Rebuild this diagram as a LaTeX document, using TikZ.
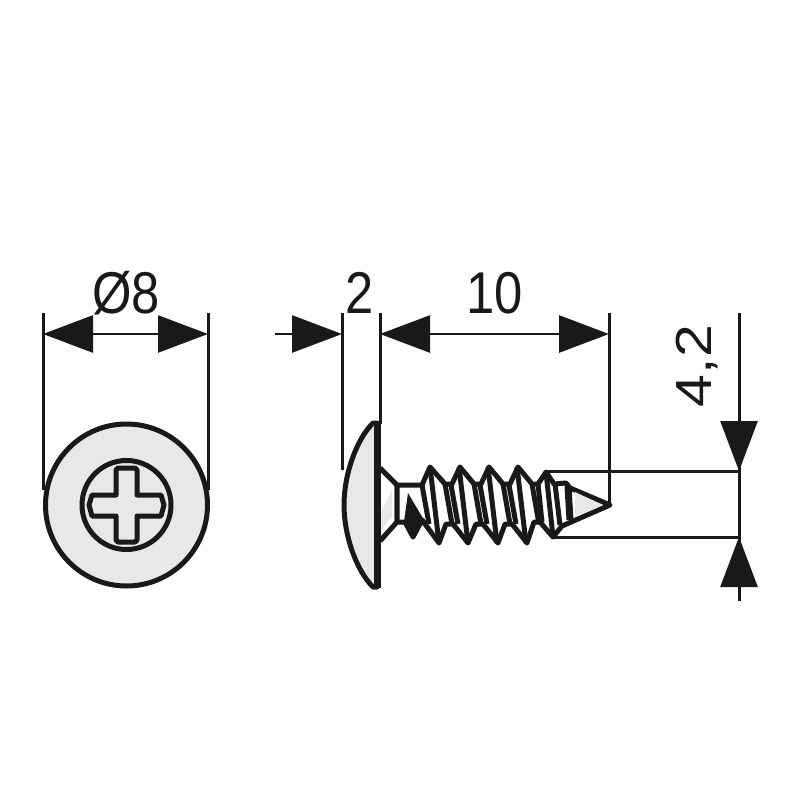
\documentclass[tikz,border=0pt]{standalone}
\usepackage{fontspec}
\setmainfont{Liberation Sans}
\usetikzlibrary{arrows.meta}
\definecolor{headgray}{HTML}{E8E8E8}
\begin{document}
\begin{tikzpicture}[x=1pt,y=-1pt]
	\tikzstyle{part}=[line width=5pt, draw=black!90, line join=round]
	\tikzstyle{thin}=[line width=3pt, draw=black!90]
	\tikzstyle{dim}=[line width=2.6pt, draw=black!90]
	\tikzstyle{tip}=[dim, -{Triangle[length=50pt,width=37pt,black!90]}]
	\tikzstyle{txt}=[inner sep=0pt, xscale=.86, font=\fontsize{59}{59}\selectfont, text=black!90]
	\useasboundingbox (0,0) rectangle (800,800);
	% head seen from the front
	\node[circle, part, fill=headgray, minimum size=162pt, inner sep=0pt] (head) at (126.5,505) {};
	\node[circle, part, minimum size=89pt, inner sep=0pt] (recess) at (126.5,505) {};
	\draw[part] (116,495) -- (116,470) -- (118,468) -- (135,468) -- (137,470) -- (137,495) -- (161,495) -- (164,505)
		-- (161,516) -- (137,516) -- (137,540) -- (135,542) -- (118,542) -- (116,540) -- (116,516) -- (92,516)
		-- (89,505) -- (92,495) -- cycle;
	% dimension coordinates
	\coordinate (a1) at (43,313);
	\coordinate (a2) at (43,490);
	\coordinate (b1) at (208,313);
	\coordinate (b2) at (208,490);
	\coordinate (c1) at (342,313);
	\coordinate (c2) at (342,470);
	\coordinate (d1) at (380,313);
	\coordinate (d2) at (380,424);
	\coordinate (e1) at (609,313);
	\coordinate (e2) at (609,505);
	\coordinate (f1) at (739,313);
	\coordinate (f2) at (739,601);
	\coordinate (g1) at (546,471);
	\coordinate (g2) at (739,471);
	\coordinate (h1) at (553,537);
	\coordinate (h2) at (739,537);
	\coordinate (m1) at (94,334);
	\coordinate (m2) at (157,334);
	\coordinate (n1) at (275,334);
	\coordinate (n2) at (342,334);
	\coordinate (o1) at (430,334);
	\coordinate (o2) at (559,334);
	\coordinate (o3) at (380,334);
	\coordinate (o4) at (609,334);
	\coordinate (a3) at (43,334);
	\coordinate (b3) at (208,334);
	\path (a1) edge [thin] (a2)
	(b1) edge [thin] (b2)
	(c1) edge [thin] (c2)
	(d1) edge [thin] (d2)
	(e1) edge [thin] (e2)
	(f1) edge [thin] (f2)
	(g1) edge [thin] (g2)
	(h1) edge [thin] (h2)
	(m1) edge [dim] (m2)
	(o1) edge [dim] (o2)
	(n1) edge [tip] (n2);
	\draw[tip] (m1) -- (a3);
	\draw[tip] (m2) -- (b3);
	\draw[tip] (o1) -- (o3);
	\draw[tip] (o2) -- (o4);
	\coordinate (p1) at (739,424);
	\coordinate (p2) at (739,471);
	\coordinate (q1) at (739,584);
	\coordinate (q2) at (739,537);
	\draw[tip] (p1) -- (p2);
	\draw[tip] (q1) -- (q2);
	\node[txt] (dia) at (126,293) {Ø8};
	\node[txt] (hgt) at (360,293) {2};
	\node[txt] (len) at (495,293) {10};
	\node[txt, rotate=90] (thd) at (697,366) {4,2};
	% head seen from the side
	\draw[part, fill=headgray] (377,423) -- (373,423) .. controls (356,440) and (344,475) .. (344,505)
		.. controls (344,535) and (356,570) .. (373,587) -- (377,587) -- cycle;
	\draw[line width=7pt, draw=black!90] (377.5,422) -- (377.5,588);
	\draw[part] (380,468) -- (397,485) -- (397,522) -- (380,541);
	\fill[headgray] (381,512) -- (392,490) -- (392,516) -- (381,531) -- cycle;
	% thread outline
	\draw[part, fill=white] (397,485) -- (422,485) -- (430,467) -- (445,484) -- (452,484) -- (460,467) -- (474,484)
		-- (481,484) -- (489,467) -- (503,484) -- (510,484) -- (518,467) -- (532,484) -- (538,484) -- (546,472)
		-- (554,484) -- (566,483) -- (570,488) -- (610,505) -- (562,526) -- (553,537) -- (540,522) -- (534,522)
		-- (527,543) -- (512,524) -- (505,524) -- (498,543) -- (483,524) -- (476,524) -- (468,543) -- (453,524)
		-- (446,524) -- (439,543) -- (425,524) -- (422,520) -- (413,537) -- (405,522) -- (397,522) -- cycle;
	\fill[headgray] (575,492) -- (603,505) -- (575,517) -- cycle;
	% thread flanks
	\foreach \i in {0,29,58,87} {
		\draw[part] (430+\i,467) -- (439+\i,543);
		\draw[part] (422+\i,485) -- (429+\i,524);
		\draw[part] (445+\i,484) -- (452+\i,524);
	}
	\draw[part] (546,472) -- (553,537);
	\draw[part] (538,484) -- (542,522);
	\draw[line width=7pt, draw=black!90] (568,486) -- (570,520);
	\draw[part] (555,484) -- (560,525);
	\fill[black!90] (408,493) -- (424,520) -- (413,538) -- (404,522) -- cycle;
\end{tikzpicture}
\end{document}
